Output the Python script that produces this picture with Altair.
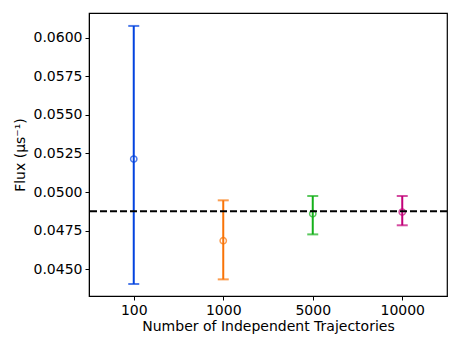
import altair as alt
import pandas as pd

categories = ["100", "1000", "5000", "10000"]
means = [0.05214, 0.04684, 0.04859, 0.04870]
lows = [0.04403, 0.04433, 0.04725, 0.04784]
highs = [0.06078, 0.04946, 0.04974, 0.04974]
colors = ["#0343df", "#f97306", "#15b01a", "#c20078"]
reference = 0.04875
y_ticks = [0.045, 0.0475, 0.05, 0.0525, 0.055, 0.0575, 0.06]
y_domain = [0.04325, 0.06162]

df = pd.DataFrame({"n": categories, "mean": means, "low": lows, "high": highs})
ref_df = pd.DataFrame({"ref": [reference]})

x = alt.X("n:N", sort=categories, scale=alt.Scale(type="point", padding=0.5),
          axis=alt.Axis(title="Number of Independent Trajectories", labelAngle=0,
                        labelFontSize=14, titleFontSize=14, titleFontWeight="normal",
                        labelColor="black", titleColor="black", tickColor="black",
                        domainColor="black", tickSize=4, labelPadding=3, titlePadding=2))
color = alt.Color("n:N", sort=categories,
                  scale=alt.Scale(domain=categories, range=colors), legend=None)
yscale = alt.Scale(domain=y_domain, nice=False, zero=False)

base = alt.Chart(df)
bars = base.mark_rule(strokeWidth=2).encode(
    x=x,
    y=alt.Y("low:Q", scale=yscale,
            axis=alt.Axis(title="Flux (μs⁻¹)", values=y_ticks, format=".4f", grid=False,
                          labelFontSize=14, titleFontSize=14, titleFontWeight="normal",
                          labelColor="black", titleColor="black", tickColor="black",
                          domainColor="black", tickSize=4, labelPadding=3, titlePadding=6)),
    y2="high:Q",
    color=color,
)
caps_low = base.mark_tick(thickness=2, size=11, orient="horizontal").encode(
    x=x, y=alt.Y("low:Q", scale=yscale), color=color)
caps_high = base.mark_tick(thickness=2, size=11, orient="horizontal").encode(
    x=x, y=alt.Y("high:Q", scale=yscale), color=color)
pts = base.mark_point(shape="circle", filled=False, size=40, strokeWidth=1.5).encode(
    x=x, y=alt.Y("mean:Q", scale=yscale), color=color)
ref = alt.Chart(ref_df).mark_rule(color="black", strokeWidth=2, strokeDash=[7, 3]).encode(
    y=alt.Y("ref:Q", scale=yscale))

chart = alt.layer(bars, caps_low, caps_high, pts, ref).properties(
    width=358, height=283,
    autosize=alt.AutoSizeParams(type="none"),
    padding={"left": 81, "top": 5, "right": 6, "bottom": 42},
).configure_view(stroke="black", strokeWidth=1.2).configure_axis(
    labelFont="DejaVu Sans", titleFont="DejaVu Sans")

chart.save("out.html", embed_options={"renderer": "svg", "actions": False})
